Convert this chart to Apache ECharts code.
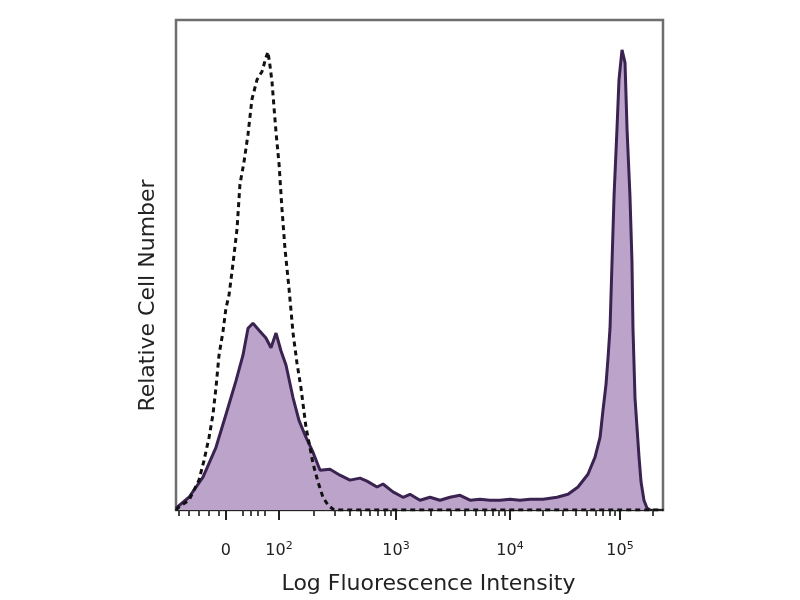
<!DOCTYPE html>
<html>
<head>
<meta charset="utf-8">
<script src="https://cdn.jsdelivr.net/npm/echarts@6/dist/echarts.min.js"></script>
<style>html,body{margin:0;padding:0;background:#fff;}#c{width:800px;height:600px;}</style>
</head>
<body>
<div id="c"></div>
<script>
// Display-scale positions (in decade units on the logicle axis)
const tickValues = [1.464, 1.938, 2.982, 4.0, 4.982];
const tickLabels = ['0', '10^2', '10^3', '10^4', '10^5'];

// Unstained control (dashed)
const ctrlX = [1.018,1.045,1.134,1.223,1.268,1.313,1.348,1.375,1.402,1.438,1.464,1.491,1.527,1.563,1.589,1.625,1.661,1.696,1.741,1.786,1.821,1.839,1.857,1.875,1.893,1.911,1.938,1.964,1.991,2.027,2.063,2.098,2.134,2.179,2.214,2.241,2.286,2.330,2.375,2.429,3.0,4.0,5.366];
const ctrlY = [0,0.6,2.0,6.1,10.1,14.8,19.5,25.0,31.6,36.5,41.2,43.8,50.3,57.4,66.5,71.0,76.7,83.8,87.8,89.5,92.3,93.5,90.7,87.4,82.2,77.1,70.6,61.5,53.3,45.2,36.1,30.0,24.9,16.8,12.8,9.5,5.7,2.6,1.0,0,0,0,0];

// Stained sample (filled purple)
const sampleX = [1.018,1.134,1.259,1.375,1.464,1.554,1.616,1.661,1.705,1.759,1.821,1.866,1.911,1.955,2.000,2.063,2.116,2.179,2.241,2.304,2.393,2.482,2.571,2.661,2.723,2.813,2.866,2.955,3.045,3.107,3.196,3.286,3.375,3.464,3.554,3.643,3.732,3.821,3.911,4.0,4.089,4.179,4.295,4.420,4.518,4.607,4.696,4.759,4.804,4.830,4.857,4.875,4.893,4.911,4.929,4.955,4.973,5.0,5.027,5.045,5.071,5.089,5.098,5.116,5.134,5.152,5.170,5.196,5.223,5.25];
const sampleY = [0.4,2.6,6.7,12.8,19.5,26.4,31.6,37.1,38.1,36.7,35.1,33.1,36.1,32.5,29.6,22.9,18.3,14.8,11.8,8.1,8.3,7.1,6.1,6.5,5.9,4.7,5.3,3.7,2.6,3.2,2.0,2.6,2.0,2.6,3.0,2.0,2.2,2.0,2.0,2.2,2.0,2.2,2.2,2.6,3.2,4.7,7.3,10.8,14.8,20.3,25.6,31.0,37.1,50.7,64.1,77.7,87.8,93.9,91.3,77.7,64.1,50.7,37.1,22.9,16.8,10.8,5.7,2.0,0.4,0];

const X_MIN = 1.018, X_MAX = 5.366;

// minor ticks (logicle style)
const minorTicks = [1.045, 1.134, 1.223, 1.313, 1.402, 1.616, 1.688, 1.75, 1.813];
for (let d = 1; d < tickValues.length - 1; d++) {
  const a = tickValues[d], b = tickValues[d + 1];
  for (let k = 2; k <= 9; k++) minorTicks.push(a + Math.log10(k) * (b - a));
}
{
  const a = tickValues[3], b = tickValues[4];
  const v = b + Math.log10(2) * (b - a);
  if (v < X_MAX) minorTicks.push(v);
}

const zip = (xs, ys) => xs.map((x, i) => [x, ys[i]]);

function fmt(v) {
  let best = 0, bd = Infinity;
  tickValues.forEach((t, i) => { const d = Math.abs(t - v); if (d < bd) { bd = d; best = i; } });
  const s = tickLabels[best];
  if (s.indexOf('^') >= 0) {
    const p = s.split('^');
    return '{b|' + p[0] + '}{s|' + p[1] + '}';
  }
  return '{s| }{b|' + s + '}{s| }';
}

const chart = echarts.init(document.getElementById('c'), null, {renderer: 'canvas'});
chart.setOption({
  backgroundColor: '#ffffff',
  animation: false,
  grid: {left: 176, right: 137, top: 20, bottom: 87, show: true, borderColor: '#6e6e6e', borderWidth: 2.5, backgroundColor: 'transparent'},
  xAxis: [{
    type: 'value', min: X_MIN, max: X_MAX,
    name: 'Log Fluorescence Intensity', nameLocation: 'middle', nameGap: 63,
    nameTextStyle: {fontFamily: 'DejaVu Sans', fontSize: 22, color: '#222', padding: [0, 0, 0, 18]},
    axisLine: {show: true, lineStyle: {color: '#222', width: 2}},
    axisTick: {show: true, customValues: tickValues, length: 10, inside: false, lineStyle: {color: '#222', width: 2}},
    axisLabel: {show: true, customValues: tickValues, margin: 31, formatter: fmt,
      rich: {
        b: {fontFamily: 'DejaVu Sans', fontSize: 16, color: '#222'},
        s: {fontFamily: 'DejaVu Sans', fontSize: 11, color: '#222', padding: [0, 0, 9, 0]}
      }},
    splitLine: {show: false}
  }, {
    type: 'value', min: X_MIN, max: X_MAX, position: 'bottom',
    axisLine: {show: false},
    axisTick: {show: true, customValues: minorTicks, length: 6, inside: false, lineStyle: {color: '#333', width: 1.8}},
    axisLabel: {show: false},
    splitLine: {show: false}
  }],
  yAxis: {
    type: 'value', min: 0, max: 100,
    name: 'Relative Cell Number', nameLocation: 'middle', nameGap: 17, nameRotate: 90,
    nameTextStyle: {fontFamily: 'DejaVu Sans', fontSize: 22, color: '#222', padding: [0, 61, 0, 0]},
    axisLine: {show: false}, axisTick: {show: false}, axisLabel: {show: false}, splitLine: {show: false}
  },
  series: [{
    type: 'line', name: 'sample', data: zip(sampleX, sampleY), showSymbol: false, smooth: false,
    lineStyle: {color: '#3a2350', width: 3},
    areaStyle: {color: '#bba3c9', opacity: 1},
    z: 2
  }, {
    type: 'line', name: 'control', data: zip(ctrlX, ctrlY), showSymbol: false, smooth: false,
    lineStyle: {color: '#111', width: 3, type: [5, 4]},
    z: 3
  }]
});
</script>
</body>
</html>
